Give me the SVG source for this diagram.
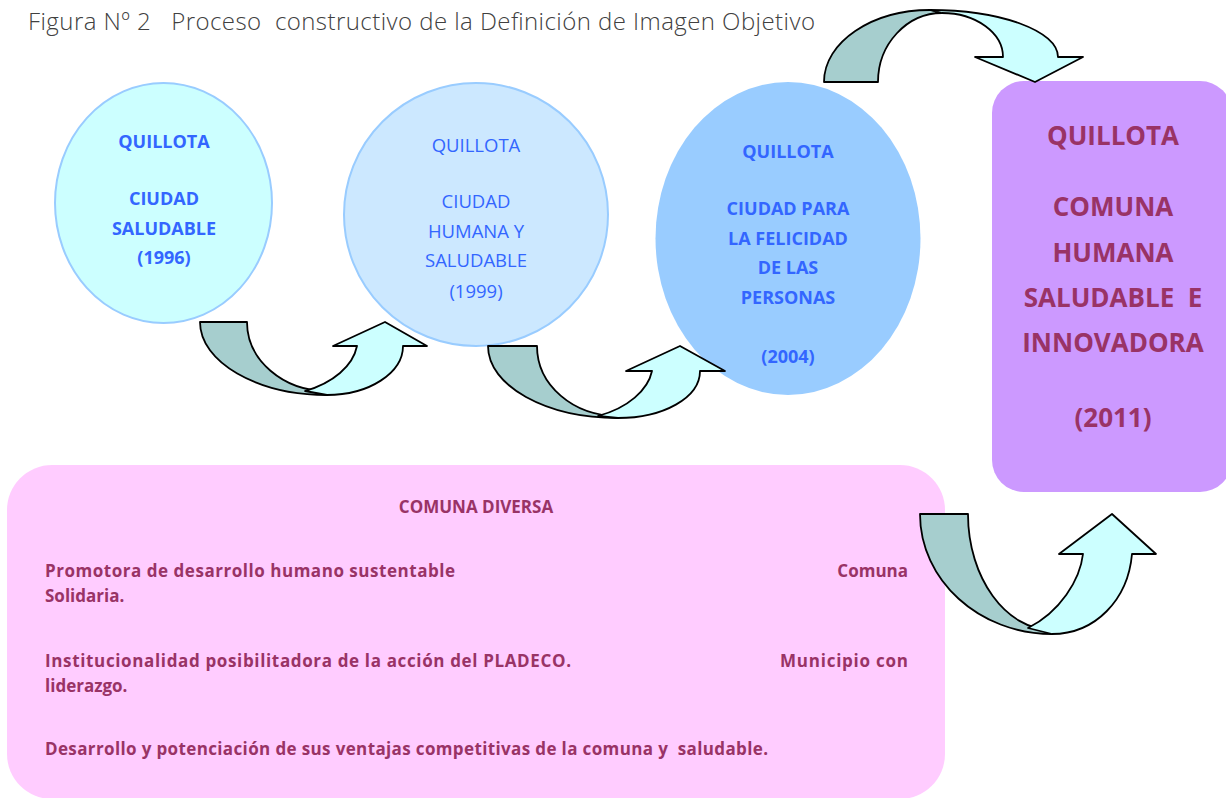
<svg xmlns="http://www.w3.org/2000/svg" width="1226" height="798" viewBox="0 0 1226 798">
<style>
.title{font-family:"Open Sans","DejaVu Sans",sans-serif;font-weight:300;font-size:24px;fill:#404040}
.blue{font-family:"Open Sans","Liberation Sans",sans-serif;fill:#3366FF;text-anchor:middle}
.b{font-weight:700;font-size:18px}
.r{font-weight:400;font-size:18.5px}
.plum{font-family:"Open Sans","Liberation Sans",sans-serif;font-weight:700;fill:#993366}
.big{font-size:26px;text-anchor:middle}
.small{font-size:17px}
.end{text-anchor:end}
.dark{fill:#A6CECE;stroke:#000;stroke-width:1.8;stroke-linejoin:round}
.light{fill:#CCFFFF;stroke:#000;stroke-width:1.8;stroke-linejoin:round}
</style>
<rect width="1226" height="798" fill="#FFFFFF"/>
<text class="title" x="28" y="30" textLength="787" xml:space="preserve">Figura Nº 2   Proceso  constructivo de la Definición de Imagen Objetivo</text>

<g id="node-1996">
<ellipse cx="163.5" cy="203" rx="108.5" ry="120" fill="#CCFFFF" stroke="#99CCFF" stroke-width="2"/>
<text class="blue b" x="164" y="148">QUILLOTA</text>
<text class="blue b" x="164" y="205">CIUDAD</text>
<text class="blue b" x="164" y="235">SALUDABLE</text>
<text class="blue b" x="164" y="264">(1996)</text>
</g>

<g id="node-1999">
<ellipse cx="476" cy="214.5" rx="132" ry="131.5" fill="#CCE8FF" stroke="#99CCFF" stroke-width="2"/>
<text class="blue r" x="476" y="152">QUILLOTA</text>
<text class="blue r" x="476" y="208">CIUDAD</text>
<text class="blue r" x="476" y="238">HUMANA Y</text>
<text class="blue r" x="476" y="267">SALUDABLE</text>
<text class="blue r" x="476" y="298">(1999)</text>
</g>

<g id="node-2004">
<ellipse cx="788" cy="238.5" rx="132.5" ry="156.5" fill="#99CCFF"/>
<text class="blue b" x="788" y="158">QUILLOTA</text>
<text class="blue b" x="788" y="215">CIUDAD PARA</text>
<text class="blue b" x="788" y="245">LA FELICIDAD</text>
<text class="blue b" x="788" y="274">DE LAS</text>
<text class="blue b" x="788" y="304">PERSONAS</text>
<text class="blue b" x="788" y="363">(2004)</text>
</g>

<g id="node-2011">
<rect x="992" y="81" width="240" height="411" rx="32" ry="32" fill="#CC99FF"/>
<text class="plum big" x="1113" y="145">QUILLOTA</text>
<text class="plum big" x="1113" y="216">COMUNA</text>
<text class="plum big" x="1113" y="262">HUMANA</text>
<text class="plum big" x="1113" y="307" xml:space="preserve">SALUDABLE  E</text>
<text class="plum big" x="1113" y="352">INNOVADORA</text>
<text class="plum big" x="1113" y="427">(2011)</text>
</g>

<g id="node-comuna-diversa">
<rect x="7" y="465" width="938" height="334" rx="45" ry="45" fill="#FFCCFF"/>
<text class="plum small" x="476" y="513" text-anchor="middle">COMUNA DIVERSA</text>
<text class="plum small" x="45" y="577" textLength="410">Promotora de desarrollo humano sustentable</text>
<text class="plum small end" x="908" y="577">Comuna</text>
<text class="plum small" x="45" y="602">Solidaria.</text>
<text class="plum small" x="45" y="667" textLength="526">Institucionalidad posibilitadora de la acción del PLADECO.</text>
<text class="plum small" x="780" y="667" textLength="128">Municipio con</text>
<text class="plum small" x="45" y="692">liderazgo.</text>
<text class="plum small" x="45" y="755" textLength="723" xml:space="preserve">Desarrollo y potenciación de sus ventajas competitivas de la comuna y  saludable.</text>
</g>

<g id="connectors">
<g id="arrow-1996-1999">
<path class="dark" d="M200,322 H247 C247,360 283,391 327,391 L327,395 C257,395 200,362 200,322 Z"/>
<path class="light" d="M305,391 C333,383 353,366 357,346 L333,346 L385,322 L427,346 L403,346 C403,373 369,395 327,395 Z"/>
</g>
<g id="arrow-1999-2004">
<path class="dark" d="M488,346 H537 C537,385 573,416 618,416 L618,418 C546,418 488,386 488,346 Z"/>
<path class="light" d="M598,416 C628,408 648,390 652,371 L626,371 L680,346 L725,371 L700,371 C700,398 663,418 618,418 Z"/>
</g>
<g id="arrow-2004-2011">
<path class="dark" d="M824,82 C824,42 872,10 930,10 L942,13 C907,13 878,44 878,82 Z"/>
<path class="light" d="M930,10 C1001,10 1058,31 1058,57 L1083,57 L1035,82 L975,57 L1003,57 C1003,33 976,13 942,13 Z"/>
</g>
<g id="arrow-diversa-2011">
<path class="dark" d="M920,514 H968 C968,578 1006,630 1052,630 L1052,634 C979,634 920,580 920,514 Z"/>
<path class="light" d="M1028,628 C1060,612 1080,580 1083,554 L1059,554 L1112,514 L1156,554 L1132,554 C1128,600 1095,634 1052,634 Z"/>
</g>
</g>
</svg>
